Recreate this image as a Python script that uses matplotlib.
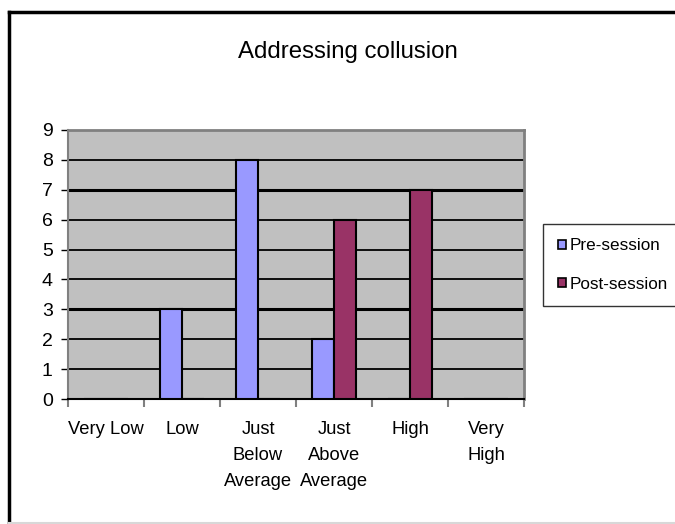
import matplotlib
matplotlib.use("Agg")
import matplotlib.pyplot as plt
import numpy as np
from matplotlib.lines import Line2D

plt.rcParams['font.family'] = ['Liberation Sans', 'DejaVu Sans']

# data
categories = ['Very Low', 'Low', 'Just\nBelow\nAverage', 'Just\nAbove\nAverage', 'High', 'Very\nHigh']
pre_session = [0, 3, 8, 2, 0, 0]
post_session = [0, 0, 0, 6, 7, 0]
series_names = ['Pre-session', 'Post-session']
pre_color = '#9999FF'
post_color = '#993366'

fig = plt.figure(figsize=(6.75, 5.24), dpi=100)
ax = fig.add_axes([68/675, 125/524, 456/675, 269/524])
ax.set_facecolor('#C0C0C0')

x = np.arange(len(categories))
w = 1/3.5
ax.bar(x - w/2, pre_session, w, color=pre_color, edgecolor='black', linewidth=1.5, zorder=3,
       label=series_names[0])
ax.bar(x + w/2, post_session, w, color=post_color, edgecolor='black', linewidth=1.5, zorder=3,
       label=series_names[1])

# horizontal gridlines
for yv in range(1, 9):
    ax.axhline(yv, color='black', lw=2.2 if yv in (3, 7) else 1.3, zorder=1)

ax.set_xlim(-0.5, len(categories) - 0.5)
ax.set_ylim(0, 9)
ax.set_yticks(range(0, 10))
ax.set_xticks(np.arange(-0.5, len(categories), 1))
ax.set_xticklabels([])
ax.tick_params(axis='y', length=5, width=1, color='black', labelsize=14, pad=6)
ax.tick_params(axis='x', length=6, width=1.5, color='#808080', direction='out')

for s in ['top', 'right']:
    ax.spines[s].set_color('#808080')
    ax.spines[s].set_linewidth(2)
ax.spines['left'].set_color('#808080')
ax.spines['left'].set_linewidth(1.5)
ax.spines['bottom'].set_color('black')
ax.spines['bottom'].set_linewidth(1.5)

for i, lab in enumerate(categories):
    ax.text(x[i], -0.72, lab, ha='center', va='top', fontsize=13.2, linespacing=1.72)

fig.text(348/675, 1 - 52/524, 'Addressing collusion', ha='center', va='center', fontsize=17.3)

handles = [plt.Rectangle((0, 0), 1, 1, facecolor=pre_color, edgecolor='black', lw=1.2),
           plt.Rectangle((0, 0), 1, 1, facecolor=post_color, edgecolor='black', lw=1.2)]
leg = fig.legend(handles, series_names, loc='center left', bbox_to_anchor=(543/675, 1 - 265/524),
                 fontsize=12.3, frameon=True, fancybox=False, edgecolor='black',
                 handlelength=0.5, handleheight=0.5, handletextpad=0.2, labelspacing=1.35,
                 borderpad=0.85, borderaxespad=0)
leg.get_frame().set_linewidth(1)

# outer frame of the chart object
fig.add_artist(Line2D([9/675, 1], [1 - 12/524, 1 - 12/524], color='black', lw=2.5))
fig.add_artist(Line2D([9/675, 9/675], [1/524, 1 - 12/524], color='black', lw=2.5))
fig.add_artist(Line2D([9/675, 1], [1/524, 1/524], color='#D8D8D8', lw=1.5))

fig.savefig('out.png', dpi=100)
